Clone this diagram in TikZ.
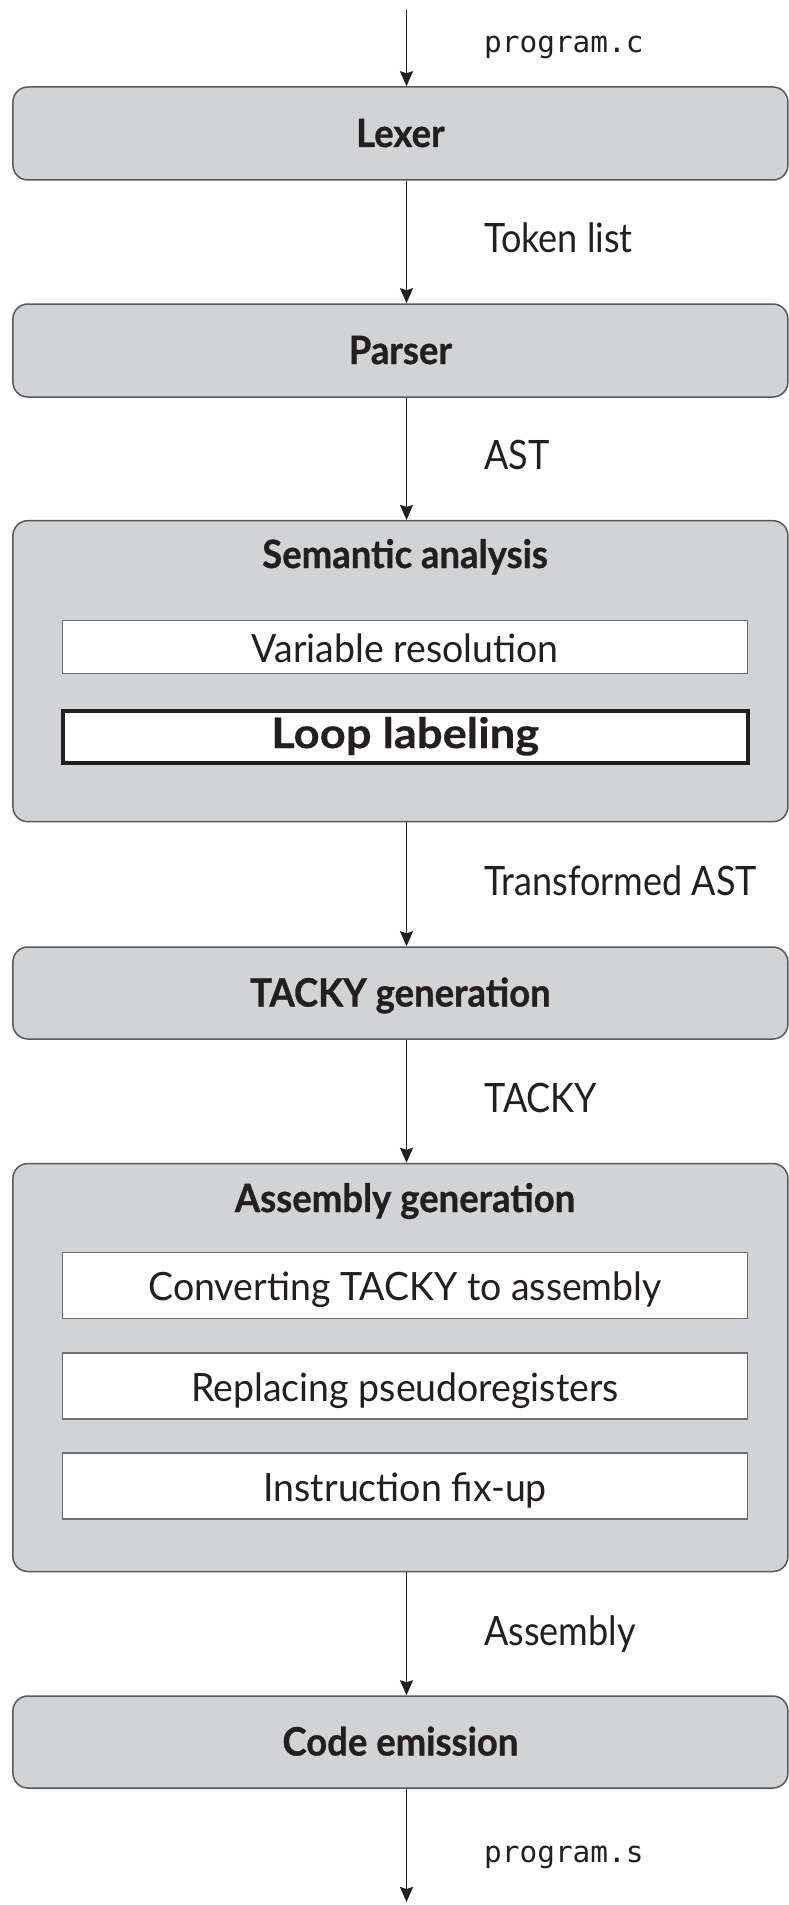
\documentclass[tikz,border=0pt]{standalone}
\usepackage{fontspec}
\setmainfont{Lato}
\newfontfamily\lblfont[FakeStretch=0.89]{Lato}
\newfontfamily\passfont[FakeStretch=0.96]{Lato}
\newfontfamily\newpassfont[FakeStretch=1.08, FakeBold=0.4]{Lato}
\newfontfamily\ttlfont[FakeStretch=0.935, FakeBold=0.8]{Lato}
\newfontfamily\codefont{DejaVu Sans Mono}
\usetikzlibrary{arrows.meta}

\definecolor{stagefill}{HTML}{D1D3D4}
\definecolor{stageline}{HTML}{58595B}
\definecolor{passline}{HTML}{6D6E71}
\definecolor{ink}{HTML}{231F20}

\tikzset{
  stage/.style={draw=stageline, fill=stagefill, line width=1.5pt,
    rounded corners=15pt, minimum width=775pt, inner sep=0pt,
    text height=27pt, text depth=0pt, text=ink,
    font=\ttlfont\bfseries\fontsize{39}{44}\selectfont},
  title/.style={anchor=base, inner sep=0pt, text=ink,
    font=\ttlfont\bfseries\fontsize{39}{44}\selectfont},
  pass/.style={draw=passline, fill=white, line width=1.3pt,
    minimum width=685pt, inner sep=0pt,
    text height=30pt, text depth=0pt, text=ink,
    font=\passfont\fontsize{39}{44}\selectfont},
  newpass/.style={pass, draw=ink, line width=4pt,
    text height=23pt, font=\newpassfont\bfseries\fontsize{42}{48}\selectfont},
  flowlabel/.style={anchor=base west, inner sep=0pt, text=ink,
    font=\lblfont\fontsize{40.5}{46}\selectfont},
  codelabel/.style={anchor=base west, inner sep=0pt, text=ink,
    font=\codefont\fontsize{29.4}{34}\selectfont},
  flow/.style={draw=ink, line width=1.6pt,
    -{Stealth[length=15pt, width=13pt, inset=2pt]}}
}

\begin{document}
\begin{tikzpicture}[x=1pt, y=-1pt]
  \useasboundingbox (0,0) rectangle (789,1905);

  % vertical spine that every connector follows
  \coordinate (spine) at (406.5,0);
  \coordinate (src) at (406.5,10);
  \coordinate (out) at (406.5,1902);

  % compiler stages
  \node[stage, minimum height=93pt] (lexer) at (400.4,133.5) {Lexer};
  \node[stage, minimum height=93pt] (parser) at (400.4,350.5) {Parser};
  \node[stage, minimum height=301pt] (sema) at (400.4,671.2) {};
  \node[stage, minimum height=92pt] (tacky) at (400.4,993) {TACKY generation};
  \node[stage, minimum height=408pt] (asmgen) at (400.4,1367.5) {};
  \node[stage, minimum height=92pt] (emit) at (400.4,1742) {Code emission};

  % semantic analysis passes
  \node[title] (sematitle) at (405,568) {Semantic analysis};
  \node[pass, minimum height=53pt] (varres) at (405.2,647) {Variable resolution};
  \node[newpass, minimum height=52pt] (looplab) at (405.2,736.6) {Loop labeling};

  % assembly generation passes
  \node[title] (asmtitle) at (405,1212) {Assembly generation};
  \node[pass, minimum height=66pt] (conv) at (405.2,1285.5) {Converting TACKY to assembly};
  \node[pass, minimum height=66pt] (pseudo) at (405.2,1386) {Replacing pseudoregisters};
  \node[pass, minimum height=66pt] (fixup) at (405.2,1486) {Instruction fix-up};

  % data passed between stages
  \draw[flow] (src) -- (lexer.north -| spine);
  \draw[flow] (lexer.south -| spine) -- (parser.north -| spine);
  \draw[flow] (parser.south -| spine) -- (sema.north -| spine);
  \draw[flow] (sema.south -| spine) -- (tacky.north -| spine);
  \draw[flow] (tacky.south -| spine) -- (asmgen.north -| spine);
  \draw[flow] (asmgen.south -| spine) -- (emit.north -| spine);
  \draw[flow] (emit.south -| spine) -- (out);

  \node[codelabel] (inlbl) at (484,53) {program.c};
  \node[flowlabel] (toklbl) at (484,252) {Token list};
  \node[flowlabel] (astlbl) at (484,469) {AST};
  \node[flowlabel] (tastlbl) at (484,895) {Transformed AST};
  \node[flowlabel] (tackylbl) at (484,1112) {TACKY};
  \node[flowlabel] (asmlbl) at (484,1645) {Assembly};
  \node[codelabel] (outlbl) at (484,1862) {program.s};
\end{tikzpicture}
\end{document}
